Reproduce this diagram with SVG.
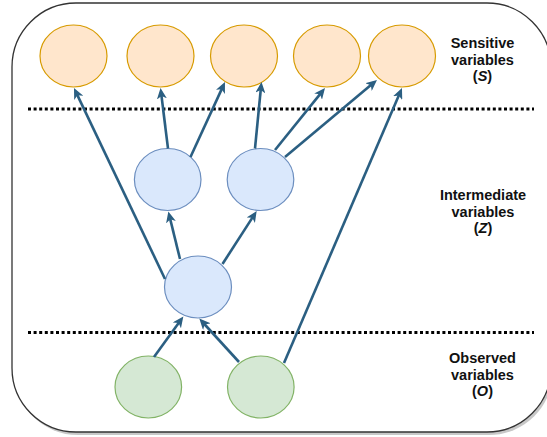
<svg xmlns="http://www.w3.org/2000/svg" width="547" height="437" viewBox="0 0 547 437">
  <style>
    .s { fill: #FFE6CC; stroke: #D79B00; stroke-width: 1.2; }
    .z { fill: #DAE8FC; stroke: #6C8EBF; stroke-width: 1.2; }
    .o { fill: #D5E8D4; stroke: #82B366; stroke-width: 1.2; }
    .e { fill: none; stroke: #2B5F82; stroke-width: 2.6; marker-end: url(#arr); }
    .sep { fill: none; stroke: #000; stroke-width: 3; stroke-dasharray: 3 2.6; }
    .lbl { font-family: "Liberation Sans", Arial, sans-serif; font-weight: bold; font-size: 14.5px; fill: #111; text-anchor: middle; }
  </style>
  <defs>
    <marker id="arr" viewBox="0 0 12 10" refX="7" refY="5" markerWidth="12" markerHeight="10" markerUnits="userSpaceOnUse" orient="auto">
      <path d="M0,0 L11,5 L0,10 L3,5 Z" fill="#2B5F82"/>
    </marker>
  </defs>
  <rect width="547" height="437" fill="#fff"/>
  <g id="frame">
    <rect x="14" y="6" width="539" height="429" rx="64" ry="64" fill="#9a9a9a" opacity="0.55"/>
    <rect x="12" y="3" width="539" height="429" rx="64" ry="64" fill="#fff" stroke="#333" stroke-width="1.3"/>
  </g>
  <g id="separators">
    <line class="sep" x1="28" y1="109" x2="534" y2="109"/>
    <line class="sep" x1="28" y1="332.5" x2="534" y2="332.5"/>
  </g>
  <g id="S1"><ellipse class="s" cx="73.5" cy="56" rx="33.5" ry="31"/></g>
  <g id="S2"><ellipse class="s" cx="160.5" cy="56" rx="33.5" ry="31"/></g>
  <g id="S3"><ellipse class="s" cx="244" cy="56" rx="33.5" ry="31"/></g>
  <g id="S4"><ellipse class="s" cx="327" cy="56" rx="33.5" ry="31"/></g>
  <g id="S5"><ellipse class="s" cx="402" cy="56" rx="33.5" ry="31"/></g>
  <g id="Z1"><ellipse class="z" cx="167.7" cy="179.5" rx="33.3" ry="31"/></g>
  <g id="Z2"><ellipse class="z" cx="260.5" cy="179.5" rx="33.3" ry="31"/></g>
  <g id="Z3"><ellipse class="z" cx="198" cy="287" rx="33.5" ry="31"/></g>
  <g id="O1"><ellipse class="o" cx="148.3" cy="387" rx="33.3" ry="31"/></g>
  <g id="O2"><ellipse class="o" cx="260.8" cy="387" rx="33.3" ry="31"/></g>
  <g id="connectors">
    <line class="e" x1="165" y1="279" x2="75.7" y2="91.6"/>
    <line class="e" x1="168" y1="148.5" x2="161" y2="92"/>
    <line class="e" x1="190.5" y1="157" x2="223.3" y2="85.6"/>
    <line class="e" x1="255" y1="148.5" x2="261.1" y2="86"/>
    <line class="e" x1="275" y1="150" x2="322.5" y2="91.1"/>
    <line class="e" x1="285" y1="157" x2="373.9" y2="82.6"/>
    <line class="e" x1="284" y1="363" x2="400.4" y2="91.7"/>
    <line class="e" x1="180" y1="259" x2="169.3" y2="215.4"/>
    <line class="e" x1="222.5" y1="264" x2="254.5" y2="214.4"/>
    <line class="e" x1="154" y1="357" x2="181" y2="319.7"/>
    <line class="e" x1="239" y1="362" x2="202" y2="321.5"/>
  </g>
  <g id="label-S">
    <text class="lbl" x="482.5" y="48">Sensitive</text>
    <text class="lbl" x="482.5" y="64.5">variables</text>
    <text class="lbl" x="482.5" y="81">(<tspan font-style="italic">S</tspan>)</text>
  </g>
  <g id="label-Z">
    <text class="lbl" x="483" y="200">Intermediate</text>
    <text class="lbl" x="483" y="216.5">variables</text>
    <text class="lbl" x="483" y="233">(<tspan font-style="italic">Z</tspan>)</text>
  </g>
  <g id="label-O">
    <text class="lbl" x="482.5" y="363">Observed</text>
    <text class="lbl" x="482.5" y="379.5">variables</text>
    <text class="lbl" x="482.5" y="396">(<tspan font-style="italic">O</tspan>)</text>
  </g>
</svg>
